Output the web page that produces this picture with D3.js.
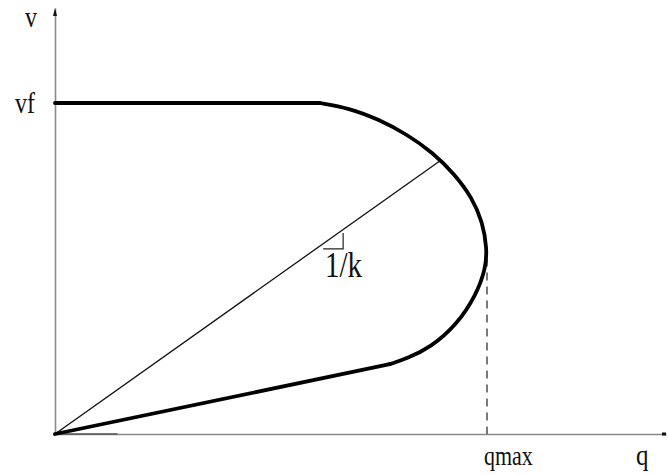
<!DOCTYPE html>
<html>
<head>
<meta charset="utf-8">
<script src="https://cdn.jsdelivr.net/npm/d3@7"></script>
<style>
  html, body { margin: 0; padding: 0; background: #fff; }
  svg text { font-family: "Liberation Serif", "DejaVu Serif", serif; fill: #111; }
</style>
</head>
<body>
<svg id="chart" width="668" height="475"></svg>
<script>
// Speed–flow diagram: q (flow) against v (speed), normalised so qmax = 1 and vf = 1.
const qmax = 1;
const vf = 1;

// Flow values along the fundamental diagram, from the jam branch up to free flow
const curveQ = [0, 0.775, 0.815, 0.87, 0.93, 0.975, 0.997, 1.0, 0.99, 0.965, 0.925, 0.875, 0.815, 0.75, 0.68, 0.613, 0];
// Matching speed values
const curveV = [0, 0.211, 0.228, 0.262, 0.330, 0.420, 0.500, 0.560, 0.640, 0.715, 0.785, 0.850, 0.905, 0.950, 0.985, 1.0, 1.0];

// Chord from the origin (slope 1/k) to a point on the curve
const chordQ = [0, 0.894];
const chordV = [0, 0.828];

// Speed at which flow is maximal
const vAtQmax = 0.53;

const axisLabels = ["v", "q"];
const markLabels = ["vf", "qmax", "1/k"];

const svg = d3.select("#chart");
const x0 = 55, xEnd = 666, y0 = 434, yTop = 8;

const x = d3.scaleLinear().domain([0, qmax]).range([x0, 487]);
const y = d3.scaleLinear().domain([0, vf]).range([y0, 103]);

// Axes: plain lines without ticks
svg.append("g")
  .attr("transform", `translate(0,${y0})`)
  .call(d3.axisBottom(d3.scaleLinear().domain([0, x.invert(xEnd)]).range([x0, xEnd]))
    .tickValues([]).tickSizeOuter(0));
svg.append("g")
  .attr("transform", `translate(${x0},0)`)
  .call(d3.axisLeft(d3.scaleLinear().domain([0, y.invert(yTop)]).range([y0, yTop]))
    .tickValues([]).tickSizeOuter(0));
svg.selectAll(".domain").attr("stroke", "#8a8a8a").attr("stroke-width", 1.6);

// Arrow tips
svg.append("rect").attr("x", xEnd - 4).attr("y", y0 - 1.5).attr("width", 4).attr("height", 3).attr("fill", "#111");
svg.append("path")
  .attr("d", `M${x0 - 2},${yTop + 8} L${x0},${yTop} L${x0 + 2},${yTop + 8} Z`)
  .attr("fill", "#111");

// Darker stretch of the q-axis next to the origin
svg.append("line")
  .attr("x1", x(0)).attr("x2", x(0.145))
  .attr("y1", y(0)).attr("y2", y(0))
  .attr("stroke", "#555").attr("stroke-width", 1.6);

// Dashed drop line at qmax
svg.append("line")
  .attr("x1", x(qmax)).attr("x2", x(qmax))
  .attr("y1", y(vAtQmax)).attr("y2", y(0))
  .attr("stroke", "#222").attr("stroke-width", 1.2)
  .attr("stroke-dasharray", "8,6");

// Chord with slope 1/k
svg.append("path")
  .datum(d3.zip(chordQ, chordV))
  .attr("d", d3.line().x(d => x(d[0])).y(d => y(d[1])))
  .attr("fill", "none").attr("stroke", "#111").attr("stroke-width", 1.3);

// Small slope triangle under the chord
const tq = 0.667, tv = 0.559;
svg.append("path")
  .attr("d", `M${x(tq) - 20},${y(tv)} L${x(tq)},${y(tv)} L${x(tq)},${y(tv) - 16}`)
  .attr("fill", "none").attr("stroke", "#222").attr("stroke-width", 1.2);

// Speed–flow curve: straight jam branch, smooth bend, flat free-flow branch
const pts = d3.zip(curveQ, curveV);
const n = pts.length;
const line = d3.line().x(d => x(d[0])).y(d => y(d[1]));
const smooth = d3.line().x(d => x(d[0])).y(d => y(d[1])).curve(d3.curveBasis);
const strokeCurve = sel => sel.attr("fill", "none").attr("stroke", "#000")
  .attr("stroke-width", 3.8).attr("stroke-linecap", "round").attr("stroke-linejoin", "round");
svg.append("path").attr("d", line(pts.slice(0, 2))).call(strokeCurve);
svg.append("path").attr("d", smooth(pts.slice(1, n - 1))).call(strokeCurve);
svg.append("path").attr("d", line(pts.slice(n - 2))).call(strokeCurve);

// Labels (tall serif lettering)
function label(txt, px, py, size) {
  svg.append("text")
    .attr("transform", `translate(${px},${py}) scale(1,1.22)`)
    .attr("font-size", size)
    .text(txt);
}
label(axisLabels[0], 25, 27, 24);
label(markLabels[0], 15, 113, 24);
label(markLabels[2], 325, 277, 29);
label(markLabels[1], 484, 465, 22);
label(axisLabels[1], 636, 465, 25);
</script>
</body>
</html>
